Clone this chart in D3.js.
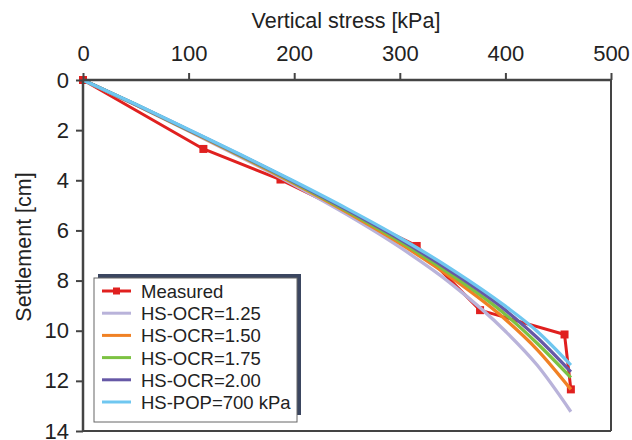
<!DOCTYPE html>
<html>
<head>
<meta charset="utf-8">
<script src="https://cdn.jsdelivr.net/npm/d3@7"></script>
<style>
  body { margin: 0; background: #fff; }
  text { font-family: "Liberation Sans", Arial, sans-serif; fill: #222; }
</style>
</head>
<body>
<script>
// stress values (kPa) where the model curves were read
var stress = [0, 50, 100, 150, 200, 250, 300, 350, 400, 430, 462];

var hsOcr125 = [0, 1.0, 2.03, 3.09, 4.19, 5.37, 6.67, 8.17, 10.02, 11.37, 13.23];
var hsOcr150 = [0, 0.99, 2.01, 3.05, 4.13, 5.28, 6.52, 7.92, 9.55, 10.75, 12.34];
var hsOcr175 = [0, 0.98, 2.0, 3.03, 4.1, 5.23, 6.44, 7.8, 9.35, 10.5, 11.87];
var hsOcr200 = [0, 0.98, 1.99, 3.01, 4.07, 5.18, 6.36, 7.68, 9.18, 10.27, 11.64];
var hsPop700 = [0, 0.97, 1.97, 2.99, 4.04, 5.13, 6.29, 7.57, 9.02, 10.02, 11.37];

// measured points
var measStress = [0, 114, 187, 316, 376, 456, 462];
var measSettle = [0, 2.75, 3.97, 6.62, 9.18, 10.15, 12.34];

var xTicks = [0, 100, 200, 300, 400, 500];
var yTicks = [0, 2, 4, 6, 8, 10, 12, 14];

var series = [
  {name: 'HS-OCR=1.25', color: '#b9b3da', vals: hsOcr125},
  {name: 'HS-OCR=1.50', color: '#f08124', vals: hsOcr150},
  {name: 'HS-OCR=1.75', color: '#7cc242', vals: hsOcr175},
  {name: 'HS-OCR=2.00', color: '#6658a6', vals: hsOcr200},
  {name: 'HS-POP=700 kPa', color: '#6fc7f0', vals: hsPop700}
];

var W = 632, H = 440;
var svg = d3.select('body').append('svg').attr('width', W).attr('height', H);

var x = d3.scaleLinear().domain([0, 500]).range([83, 611]);
var y = d3.scaleLinear().domain([0, 14]).range([80, 431]);

// plot frame (right + bottom)
svg.append('line').attr('x1', x(500)).attr('x2', x(500)).attr('y1', y(0)).attr('y2', y(14))
  .attr('stroke', '#444').attr('stroke-width', 2);
svg.append('line').attr('x1', x(0)).attr('x2', x(500)).attr('y1', y(14)).attr('y2', y(14))
  .attr('stroke', '#444').attr('stroke-width', 2);

var line = d3.line().curve(d3.curveMonotoneX);

// measured (drawn under the model curves)
var meas = measStress.map(function(s, i) { return [x(s), y(measSettle[i])]; });
svg.append('path').attr('d', d3.line()(meas))
  .attr('fill', 'none').attr('stroke', '#e0201f').attr('stroke-width', 3).attr('stroke-linejoin', 'round');
svg.selectAll('.mk').data(meas).enter().append('rect')
  .attr('x', function(d) { return d[0] - 4; }).attr('y', function(d) { return d[1] - 4; })
  .attr('width', 8).attr('height', 8).attr('fill', '#e0201f');

series.forEach(function(s) {
  var pts = stress.map(function(v, i) { return [x(v), y(s.vals[i])]; });
  svg.append('path').attr('d', line(pts))
    .attr('fill', 'none').attr('stroke', s.color).attr('stroke-width', 3.3);
});

// axes
var xAxis = svg.append('g').attr('transform', 'translate(0,' + y(0) + ')')
  .call(d3.axisTop(x).tickValues(xTicks).tickSize(7).tickPadding(12).tickFormat(d3.format('d')));
var yAxis = svg.append('g').attr('transform', 'translate(' + x(0) + ',0)')
  .call(d3.axisLeft(y).tickValues(yTicks).tickSize(7).tickPadding(7).tickFormat(d3.format('d')));
[xAxis, yAxis].forEach(function(a) {
  a.select('.domain').attr('stroke', '#444').attr('stroke-width', 2.5);
  a.selectAll('.tick line').attr('stroke', '#444').attr('stroke-width', 2);
  a.selectAll('.tick text').style('font-size', '22px').attr('fill', '#222')
    .style('font-family', '"Liberation Sans", Arial, sans-serif');
});
xAxis.select('.domain').attr('d', 'M' + x(0) + ',0H' + x(500));
yAxis.select('.domain').attr('d', 'M0,' + y(0) + 'V' + y(14));

svg.append('text').attr('x', 346).attr('y', 28).attr('text-anchor', 'middle')
  .style('font-size', '21.5px').text('Vertical stress [kPa]');
svg.append('text').attr('transform', 'translate(31,247) rotate(-90)').attr('text-anchor', 'middle')
  .style('font-size', '21.5px').text('Settlement [cm]');

// legend
var lg = svg.append('g');
lg.append('rect').attr('x', 98).attr('y', 274).attr('width', 203).attr('height', 141).attr('fill', '#3b4660');
lg.append('rect').attr('x', 94).attr('y', 278).attr('width', 203).attr('height', 144)
  .attr('fill', '#fff').attr('stroke', '#666').attr('stroke-width', 1);

var entries = [{name: 'Measured', color: '#e0201f', marker: true}].concat(series);
var rows = lg.selectAll('.row').data(entries).enter().append('g')
  .attr('transform', function(d, i) { return 'translate(0,' + (291 + i * 22.2) + ')'; });
rows.append('line').attr('x1', 102).attr('x2', 131).attr('y1', 0).attr('y2', 0)
  .attr('stroke', function(d) { return d.color; }).attr('stroke-width', 3);
rows.filter(function(d) { return d.marker; }).append('rect')
  .attr('x', 113).attr('y', -3.5).attr('width', 7).attr('height', 7).attr('fill', '#e0201f');
rows.append('text').attr('x', 141).attr('y', 7).style('font-size', '18.5px')
  .text(function(d) { return d.name; });
</script>
</body>
</html>
